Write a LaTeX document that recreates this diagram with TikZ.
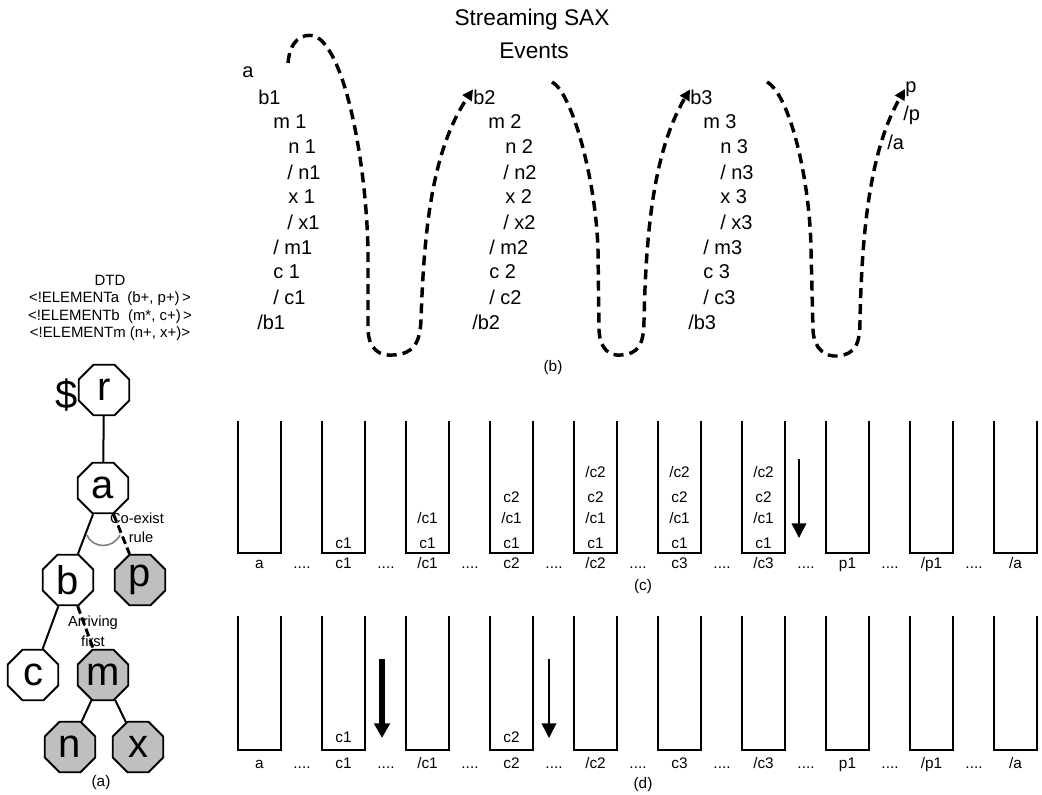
\documentclass[tikz,border=0pt]{standalone}
\usepackage{fontspec}
\setmainfont{Liberation Sans}
\usetikzlibrary{shapes.geometric,arrows.meta}
\tikzset{
  sax/.style={font=\fontsize{15}{18}\selectfont, anchor=west, inner sep=0pt},
  ttl/.style={font=\fontsize{17}{20}\selectfont, inner sep=0pt},
  dtd/.style={font=\fontsize{11.2}{13}\selectfont, inner sep=0pt},
  lbl/.style={font=\fontsize{11.5}{13}\selectfont, inner sep=0pt},
  note/.style={font=\fontsize{11}{13}\selectfont, inner sep=0pt},
  tnode/.style={draw, line width=1.4pt, regular polygon, regular polygon sides=8,
     minimum size=41pt, inner sep=0pt, font=\fontsize{30}{32}\selectfont},
  gnode/.style={fill=gray!50},
  tedge/.style={line width=1.5pt},
  tdash/.style={line width=2.2pt, dash pattern=on 6pt off 3pt},
  flow/.style={line width=2.6pt, dash pattern=on 7.5pt off 4.5pt, line cap=butt,
     -{Triangle[length=8pt,width=8pt]}},
  stackline/.style={line width=1.5pt},
  thinarrow/.style={line width=1.1pt, -{Triangle[length=11pt,width=11pt]}},
  thickarrow/.style={line width=5pt, -{Triangle[length=11pt,width=11.5pt]}},
}
\begin{document}
\begin{tikzpicture}[x=0.75pt,y=-0.75pt]
\useasboundingbox[fill=white] (0,0) rectangle (1042,794);

% ---------- title ----------
\node[ttl] (t1) at (532,20) {Streaming SAX};
\node[ttl] (t2) at (534,51) {Events};

% ---------- SAX column 1 ----------
\node[sax] (a0) at (242,72) {a};
\node[sax] (b1) at (258,97) {b1};
\node[sax] (m1) at (273,122) {m 1};
\node[sax] (n1) at (288,147) {n 1};
\node[sax] (n1e) at (287,172) {/ n1};
\node[sax] (x1) at (288,197) {x 1};
\node[sax] (x1e) at (287,222) {/ x1};
\node[sax] (m1e) at (273,247) {/ m1};
\node[sax] (c1) at (273,272) {c 1};
\node[sax] (c1e) at (273,297) {/ c1};
\node[sax] (b1e) at (257,322) {/b1};
% ---------- SAX column 2 ----------
\node[sax] (b2) at (473,97) {b2};
\node[sax] (m2) at (488,122) {m 2};
\node[sax] (n2) at (505,147) {n 2};
\node[sax] (n2e) at (503,172) {/ n2};
\node[sax] (x2) at (505,197) {x 2};
\node[sax] (x2e) at (503,222) {/ x2};
\node[sax] (m2e) at (489,247) {/ m2};
\node[sax] (c2) at (489,272) {c 2};
\node[sax] (c2e) at (489,297) {/ c2};
\node[sax] (b2e) at (472,322) {/b2};
% ---------- SAX column 3 ----------
\node[sax] (b3) at (690,97) {b3};
\node[sax] (m3) at (703,122) {m 3};
\node[sax] (n3) at (720,147) {n 3};
\node[sax] (n3e) at (720,172) {/ n3};
\node[sax] (x3) at (720,197) {x 3};
\node[sax] (x3e) at (720,222) {/ x3};
\node[sax] (m3e) at (703,247) {/ m3};
\node[sax] (c3) at (703,272) {c 3};
\node[sax] (c3e) at (703,297) {/ c3};
\node[sax] (b3e) at (688,322) {/b3};
% ---------- SAX column 4 ----------
\node[sax] (p0) at (905,89) {p};
\node[sax] (p0e) at (903,115) {/p};
\node[sax] (a0e) at (887,142) {/a};

% ---------- flow curves ----------
\coordinate (s1) at (288,63);
\coordinate (s2) at (552,82);
\coordinate (s3) at (767,82);
\draw[flow] (s1) .. controls (290,40) and (302,33) .. (315,36)
  .. controls (345,50) and (366,160) .. (368,250)
  -- (368,330) .. controls (369,350) and (380,356) .. (393,355)
  .. controls (412,354) and (420,345) .. (421,320)
  .. controls (424,230) and (432,150) .. (b2.north west);
\draw[flow] (s2) .. controls (572,92) and (596,180) .. (598,250)
  -- (599,330) .. controls (600,350) and (610,356) .. (621,355)
  .. controls (638,354) and (644,345) .. (644,320)
  .. controls (646,230) and (654,150) .. (b3.north west);
\draw[flow] (s3) .. controls (790,95) and (810,180) .. (811,250)
  -- (813,330) .. controls (814,350) and (826,357) .. (838,356)
  .. controls (855,354) and (860,345) .. (860,320)
  .. controls (862,230) and (870,150) .. (p0.west);
\node[lbl] (lb) at (553,368) {(b)};

% ---------- DTD ----------
\node[dtd] (dtd0) at (110,280) {DTD};
\node[dtd] (dtd1) at (110,299) {<!ELEMENTa\ \ (b+, p+)\,>};
\node[dtd] (dtd2) at (110,317) {<!ELEMENTb\ \ (m*, c+)\,>};
\node[dtd] (dtd3) at (110,334) {<!ELEMENTm (n+, x+)>};

% ---------- tree ----------
\node[tnode] (r) at (104,390) {r};
\node[font=\fontsize{30}{32}\selectfont, inner sep=0pt] (dollar) at (67,395) {\$};
\node[tnode] (a) at (103,488) {a};
\node[tnode] (b) at (68,580) {b};
\node[tnode,gnode] (p) at (140,580) {p};
\node[tnode] (c) at (33,675) {c};
\node[tnode,gnode] (m) at (103,675) {m};
\node[tnode,gnode] (n) at (70,747) {n};
\node[tnode,gnode] (x) at (138,747) {x};
\draw[tedge] (r) -- (a);
\draw[tedge] (a) -- (b);
\draw[tedge] (b) -- (c);
\draw[tedge] (m) -- (n);
\draw[tedge] (m) -- (x);
\draw[tdash] (a) -- (p);
\draw[tdash] (b) -- (m);
\draw[gray, line width=1.2pt] (87,535) .. controls (93,549) and (113,549) .. (120,535);
\node[note] (coex) at (137,518) {Co-exist};
\node[note] (rule) at (141,537) {rule};
\node[note] (arr) at (93,623) {Arriving};
\node[note] (first) at (93,641) {first};
\node[lbl] (la) at (101,783) {(a)};

% ---------- stacks (c) and (d) ----------
\foreach \i in {0,...,9} {
  \draw[stackline] ({238+84*\i},421) -- ({238+84*\i},553) -- ({281+84*\i},553) -- ({281+84*\i},421);
  \draw[stackline] ({238+84*\i},616) -- ({238+84*\i},750) -- ({281+84*\i},750) -- ({281+84*\i},616);
}
\foreach \t [count=\i from 0] in {a,c1,/c1,c2,/c2,c3,/c3,p1,/p1,/a} {
  \node[lbl] (cl\i) at ({259.5+84*\i},565) {\vphantom{/pc1}\t};
  \node[lbl] (dl\i) at ({259.5+84*\i},765) {\vphantom{/pc1}\t};
}
\foreach \i in {0,...,8} {
  \node[lbl] (cd\i) at ({302+84*\i},565) {\vphantom{/pc1}....};
  \node[lbl] (dd\i) at ({302+84*\i},765) {\vphantom{/pc1}....};
}
\node[lbl] (lc) at (643,587) {(c)};
\node[lbl] (ld) at (643,785) {(d)};

% contents (c)
\node[lbl] (s1a) at ({259.5+84},543) {c1};
\node[lbl] (s2a) at ({259.5+168},543) {c1};
\node[lbl] (s2b) at ({259.5+168},518) {/c1};
\node[lbl] (s3a) at ({259.5+252},543) {c1};
\node[lbl] (s3b) at ({259.5+252},518) {/c1};
\node[lbl] (s3c) at ({259.5+252},497) {c2};
\foreach \k in {4,5,6} {
  \node[lbl] (s\k a) at ({259.5+84*\k},543) {c1};
  \node[lbl] (s\k b) at ({259.5+84*\k},518) {/c1};
  \node[lbl] (s\k c) at ({259.5+84*\k},497) {c2};
  \node[lbl] (s\k d) at ({259.5+84*\k},472) {/c2};
}
\coordinate (ac1) at (799,459);
\coordinate (ac2) at (799,538);
\draw[thinarrow] (ac1) -- (ac2);

% contents (d)
\node[lbl] (d1a) at ({259.5+84},737) {c1};
\node[lbl] (d3a) at ({259.5+252},737) {c2};
\coordinate (ad1) at (382,659);
\coordinate (ad2) at (382,738);
\draw[thickarrow] (ad1) -- (ad2);
\coordinate (ad3) at (549,659);
\coordinate (ad4) at (549,738);
\draw[thinarrow] (ad3) -- (ad4);
\end{tikzpicture}
\end{document}
